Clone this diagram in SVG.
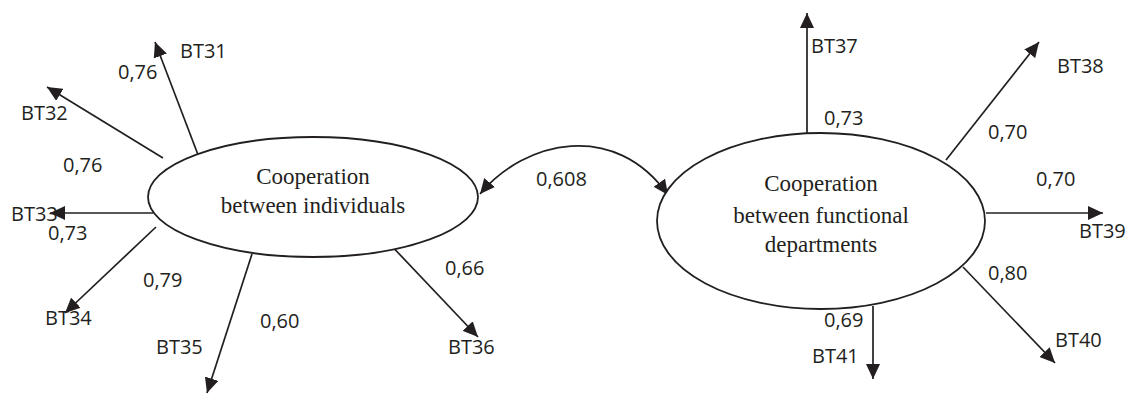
<svg xmlns="http://www.w3.org/2000/svg" width="1128" height="395" viewBox="0 0 1128 395">
<style>
.lat{fill:#fff;stroke:#231f20;stroke-width:1.8}
.lt{font-family:"Liberation Serif","Times New Roman",serif;font-size:23px;fill:#231f20;text-anchor:middle}
.lb{font-family:"Open Sans","Liberation Sans",sans-serif;font-size:20px;fill:#231f20}
.c{fill:none;stroke:#231f20;stroke-width:1.7;marker-end:url(#ah)}
</style>
<defs>
<marker id="ah" markerUnits="userSpaceOnUse" markerWidth="16" markerHeight="14" refX="15" refY="7" orient="auto-start-reverse">
<path d="M0,0 L15,7 L0,14 Z" fill="#231f20"/>
</marker>
</defs>
<g id="connectors">
<path class="c" d="M200,160 L155,42"/>
<path class="c" d="M163,158 L47,87"/>
<path class="c" d="M153,213 L50,213"/>
<path class="c" d="M156,227 L65,313"/>
<path class="c" d="M252,254 L207,393"/>
<path class="c" d="M386,240 L478,337"/>
<path class="c" d="M807,133 L807,13"/>
<path class="c" d="M946,160 L1039,42"/>
<path class="c" d="M986,213 L1103,213"/>
<path class="c" d="M963,267 L1055,363"/>
<path class="c" d="M873,306 L873,379"/>
<path class="c" style="marker-start:url(#ah)" d="M480,194 C525,140 615,120 668,195"/>
</g>
<g id="node-individuals">
<ellipse class="lat" cx="313" cy="197" rx="165" ry="60"/>
<text class="lt" x="313" y="184">Cooperation</text>
<text class="lt" x="313" y="213">between individuals</text>
</g>
<g id="node-departments">
<ellipse class="lat" cx="821" cy="221" rx="164" ry="88"/>
<text class="lt" x="821" y="191">Cooperation</text>
<text class="lt" x="821" y="223">between functional</text>
<text class="lt" x="821" y="252">departments</text>
</g>
<g id="labels">
<text class="lb" x="180" y="58">BT31</text>
<text class="lb" x="118" y="79">0,76</text>
<text class="lb" x="21" y="120">BT32</text>
<text class="lb" x="63" y="172">0,76</text>
<text class="lb" x="11" y="221">BT33</text>
<text class="lb" x="48" y="240">0,73</text>
<text class="lb" x="143" y="287">0,79</text>
<text class="lb" x="45" y="325">BT34</text>
<text class="lb" x="260" y="328">0,60</text>
<text class="lb" x="156" y="354">BT35</text>
<text class="lb" x="445" y="275">0,66</text>
<text class="lb" x="448" y="354">BT36</text>
<text class="lb" x="536" y="186">0,608</text>
<text class="lb" x="811" y="53">BT37</text>
<text class="lb" x="824" y="125">0,73</text>
<text class="lb" x="1057" y="73">BT38</text>
<text class="lb" x="988" y="139">0,70</text>
<text class="lb" x="1036" y="186">0,70</text>
<text class="lb" x="1079" y="238">BT39</text>
<text class="lb" x="988" y="280">0,80</text>
<text class="lb" x="1055" y="347">BT40</text>
<text class="lb" x="824" y="327">0,69</text>
<text class="lb" x="812" y="363">BT41</text>
</g>
</svg>
